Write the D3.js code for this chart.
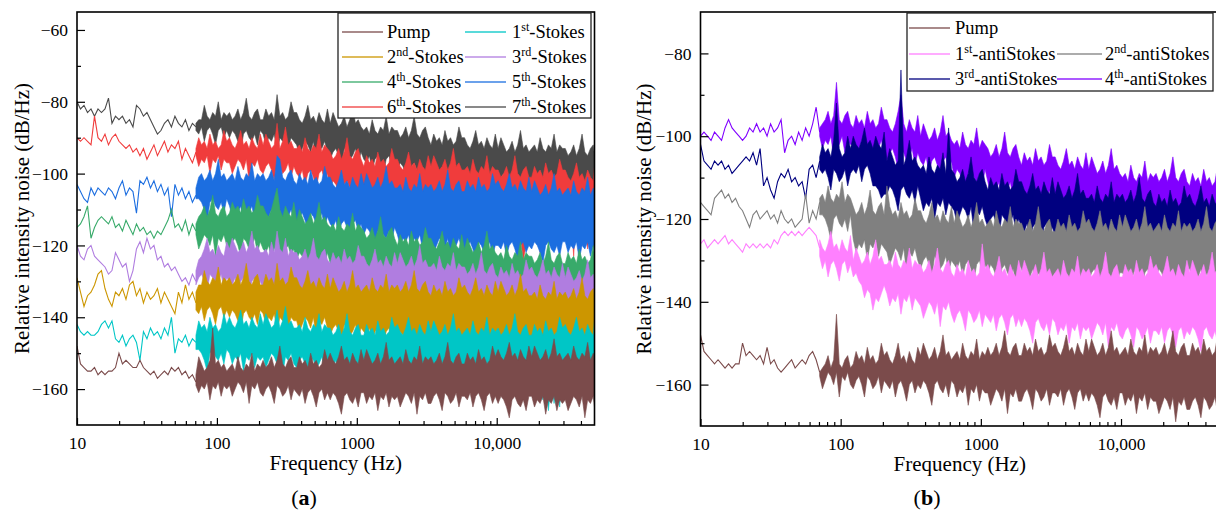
<!DOCTYPE html>
<html>
<head>
<meta charset="utf-8">
<script src="https://cdn.jsdelivr.net/npm/d3@7"></script>
<style>
  body { margin: 0; background: #fff; }
  svg text { font-family: "Liberation Serif", "Times New Roman", serif; fill: #000; }
</style>
</head>
<body>
<div id="chart"></div>
<script>
// Frequency grids (Hz): sparse trace below ~70 Hz, min/max envelope above it
const lineFreq = [10, 10.59, 11.22, 11.89, 12.59, 13.34, 14.13, 14.96, 15.85, 16.79, 17.78, 18.84, 19.95, 21.13, 22.39,
  23.71, 25.12, 26.61, 28.18, 29.85, 31.62, 33.5, 35.48, 37.58, 39.81, 42.17, 44.67, 47.32, 50.12, 53.09,
  56.23, 59.57, 63.1, 66.83, 70.79];
const bandFreq = [
  70.79, 74.13, 77.62, 81.28, 85.11, 89.13, 93.33, 97.72, 102.3, 107.2, 112.2, 117.5,
  123, 128.8, 134.9, 141.3, 147.9, 154.9, 162.2, 169.8, 177.8, 186.2, 195, 204.2,
  213.8, 223.9, 234.4, 245.5, 257, 269.2, 281.8, 295.1, 309, 323.6, 338.8, 354.8,
  371.5, 389, 407.4, 426.6, 446.7, 467.7, 489.8, 512.9, 537, 562.3, 588.8, 616.6,
  645.7, 676.1, 707.9, 741.3, 776.2, 812.8, 851.1, 891.3, 933.3, 977.2, 1023, 1072,
  1122, 1175, 1230, 1288, 1349, 1413, 1479, 1549, 1622, 1698, 1778, 1862,
  1950, 2042, 2138, 2239, 2344, 2455, 2570, 2692, 2818, 2951, 3090, 3236,
  3388, 3548, 3715, 3890, 4074, 4266, 4467, 4677, 4898, 5129, 5370, 5623,
  5888, 6166, 6457, 6761, 7079, 7413, 7762, 8128, 8511, 8913, 9333, 9772,
  10233, 10715, 11220, 11749, 12303, 12882, 13490, 14125, 14791, 15488, 16218, 16982,
  17783, 18621, 19498, 20417, 21380, 22387, 23442, 24547, 25704, 26915, 28184, 29512,
  30903, 32359, 33884, 35481, 37154, 38905, 40738, 42658, 44668, 46774, 48978, 50000];

const xMajor = [10, 100, 1000, 10000];
const xMinor = [20, 30, 40, 50, 60, 70, 80, 90, 200, 300, 400, 500, 600, 700, 800, 900,
  2000, 3000, 4000, 5000, 6000, 7000, 8000, 9000, 20000, 30000, 40000];
const yMajorA = [-60, -80, -100, -120, -140, -160];
const yMinorA = [-70, -90, -110, -130, -150];
const yMajorB = [-80, -100, -120, -140, -160];
const yMinorB = [-90, -110, -130, -150];

// ---- (a) Stokes lines, RIN in dB/Hz ----
const pumpALine = [-148,-153,-154,-155,-155, -154,-156,-155,-156,-155, -155,-154,-150,-153,-152, -153,-154,-154,-152,-154, -155,-156,-155,-157,-156, -155,-156,-154,-155,-154, -156,-155,-157,-156,-158];
const pumpAHi = [
  -156,-151,-153,-155,-154,-152,-143,-153,-152,-154,-153,-155,
  -154,-153,-155,-151,-154,-155,-153,-154,-150,-155,-153,-154,
  -152,-154,-153,-151,-154,-152,-148,-153,-154,-152,-151,-154,
  -154,-151,-153,-152,-154,-150,-153,-152,-154,-153,-149,-152,
  -150,-152,-153,-151,-148,-152,-151,-153,-150,-152,-153,-149,
  -152,-149,-151,-153,-152,-150,-153,-151,-147,-152,-151,-153,
  -152,-151,-153,-149,-152,-153,-151,-152,-148,-153,-151,-152,
  -151,-153,-152,-150,-153,-151,-147,-152,-153,-151,-150,-153,
  -153,-150,-152,-151,-153,-149,-152,-151,-153,-152,-148,-151,
  -149,-151,-152,-150,-147,-151,-150,-152,-149,-151,-152,-148,
  -151,-148,-150,-152,-151,-149,-152,-150,-146,-151,-150,-152,
  -151,-150,-152,-148,-151,-152,-150,-151,-147,-152,-150,-151];
const pumpALo = [
  -159,-161,-159,-160,-158,-163,-159,-160,-158,-162,-159,-160,
  -159,-162,-160,-158,-159,-161,-158,-164,-159,-160,-158,-161,
  -162,-160,-159,-161,-164,-159,-160,-162,-161,-159,-163,-160,
  -161,-162,-160,-164,-161,-160,-162,-165,-161,-160,-163,-161,
  -163,-161,-162,-164,-167,-162,-161,-163,-164,-162,-165,-161,
  -161,-164,-162,-163,-161,-166,-162,-163,-161,-165,-162,-163,
  -162,-165,-163,-161,-162,-164,-161,-167,-162,-163,-161,-164,
  -164,-162,-161,-163,-166,-161,-162,-164,-163,-161,-165,-162,
  -162,-163,-161,-165,-162,-161,-163,-166,-162,-161,-164,-162,
  -164,-162,-163,-165,-168,-163,-162,-164,-165,-163,-166,-162,
  -162,-165,-163,-164,-162,-167,-163,-164,-162,-166,-163,-164,
  -163,-166,-164,-162,-163,-165,-162,-168,-163,-164,-162,-165];

const s1ALine = [-142,-144,-145,-144,-145, -145,-144,-142,-141,-143, -141,-146,-147,-145,-148, -146,-145,-147,-152,-144, -146,-143,-145,-144,-146, -143,-145,-140,-150,-146, -147,-145,-148,-146,-147];
const s1AHi = [
  -145,-141,-143,-142,-144,-140,-143,-142,-144,-143,-139,-142,
  -140,-142,-143,-141,-138,-142,-141,-143,-140,-142,-143,-139,
  -142,-139,-141,-143,-142,-138,-143,-141,-137,-142,-141,-143,
  -143,-142,-144,-140,-143,-144,-142,-143,-139,-144,-142,-143,
  -143,-145,-144,-142,-145,-143,-139,-144,-145,-143,-142,-145,
  -145,-142,-144,-143,-145,-141,-144,-143,-145,-144,-140,-143,
  -142,-144,-145,-143,-140,-144,-143,-145,-142,-144,-145,-141,
  -144,-141,-143,-145,-144,-142,-145,-143,-139,-144,-143,-145,
  -144,-143,-145,-141,-144,-145,-143,-144,-140,-145,-143,-144,
  -143,-145,-144,-142,-145,-143,-139,-144,-145,-143,-142,-145,
  -145,-142,-144,-143,-145,-141,-144,-143,-145,-144,-140,-143,
  -142,-144,-145,-143,-140,-144,-143,-145,-142,-144,-145,-141];
const s1ALo = [
  -149,-149,-150,-152,-155,-150,-149,-151,-152,-150,-153,-149,
  -150,-153,-151,-152,-150,-155,-151,-152,-150,-154,-151,-152,
  -151,-154,-152,-150,-151,-153,-150,-156,-151,-152,-150,-153,
  -154,-152,-151,-153,-156,-151,-152,-154,-153,-151,-155,-152,
  -153,-154,-152,-156,-153,-152,-154,-157,-153,-152,-155,-153,
  -155,-153,-154,-156,-159,-154,-153,-155,-156,-154,-157,-153,
  -153,-156,-154,-155,-153,-158,-154,-155,-153,-157,-154,-155,
  -155,-158,-156,-154,-155,-157,-154,-160,-155,-156,-154,-157,
  -157,-155,-154,-156,-159,-154,-155,-157,-156,-154,-158,-155,
  -156,-157,-155,-159,-156,-155,-157,-160,-156,-155,-158,-156,
  -157,-155,-156,-158,-163,-156,-166,-157,-164,-156,-165,-155,
  -155,-158,-156,-157,-155,-160,-156,-157,-155,-159,-156,-157];

const s2ALine = [-129,-133,-137,-134,-133, -131,-128,-127,-132,-135, -137,-133,-134,-132,-135, -131,-130,-134,-132,-136, -133,-135,-134,-132,-136, -133,-135,-137,-139,-133, -136,-131,-135,-133,-136];
const s2AHi = [
  -133,-131,-131,-127,-130,-131,-129,-130,-126,-131,-129,-130,
  -129,-131,-130,-128,-131,-129,-125,-130,-131,-129,-128,-131,
  -131,-128,-130,-129,-131,-125,-130,-129,-131,-130,-126,-129,
  -129,-131,-132,-130,-127,-131,-130,-132,-129,-131,-132,-128,
  -132,-129,-131,-133,-132,-130,-133,-131,-127,-132,-131,-133,
  -132,-131,-133,-129,-132,-133,-131,-132,-128,-133,-131,-132,
  -131,-133,-132,-130,-133,-131,-127,-132,-133,-131,-130,-133,
  -134,-131,-133,-132,-134,-130,-133,-132,-134,-133,-129,-132,
  -131,-133,-134,-132,-129,-133,-132,-134,-131,-133,-134,-130,
  -133,-130,-132,-134,-133,-131,-134,-132,-128,-133,-132,-134,
  -134,-133,-135,-131,-134,-135,-133,-134,-130,-135,-133,-134,
  -133,-135,-134,-132,-135,-133,-129,-134,-135,-133,-132,-135];
const s2ALo = [
  -138,-139,-137,-141,-138,-137,-139,-142,-138,-137,-140,-138,
  -140,-138,-139,-141,-144,-139,-138,-140,-141,-139,-142,-138,
  -139,-142,-140,-141,-139,-144,-140,-141,-139,-143,-140,-141,
  -141,-144,-142,-140,-141,-143,-140,-146,-141,-142,-140,-143,
  -145,-143,-142,-144,-147,-142,-143,-145,-144,-142,-146,-143,
  -144,-145,-143,-147,-144,-143,-145,-148,-144,-143,-146,-144,
  -146,-144,-145,-147,-150,-145,-144,-146,-147,-145,-148,-144,
  -144,-147,-145,-146,-144,-149,-145,-146,-144,-148,-145,-146,
  -146,-149,-147,-145,-146,-148,-145,-151,-146,-147,-145,-148,
  -148,-146,-145,-147,-150,-145,-146,-148,-147,-145,-149,-146,
  -147,-148,-146,-150,-147,-146,-148,-151,-147,-146,-149,-147,
  -148,-146,-147,-149,-152,-147,-146,-148,-149,-147,-150,-146];

const s3ALine = [-120,-123,-124,-121,-120, -123,-124,-125,-126,-128, -127,-122,-124,-126,-125, -130,-127,-121,-119,-122, -118,-121,-120,-124,-123, -126,-125,-127,-126,-128, -130,-129,-131,-128,-130];
const s3AHi = [
  -127,-124,-123,-121,-118,-122,-121,-123,-120,-122,-123,-119,
  -121,-118,-120,-122,-121,-119,-122,-120,-116,-121,-120,-122,
  -122,-121,-123,-119,-122,-116,-121,-122,-118,-123,-121,-122,
  -122,-124,-123,-121,-124,-122,-118,-123,-124,-122,-121,-124,
  -125,-122,-124,-123,-125,-121,-124,-123,-125,-124,-120,-123,
  -123,-125,-126,-124,-121,-125,-124,-126,-123,-125,-126,-122,
  -125,-122,-124,-126,-125,-123,-126,-124,-120,-125,-124,-126,
  -126,-125,-127,-123,-126,-127,-125,-126,-122,-127,-125,-126,
  -126,-128,-127,-125,-128,-126,-122,-127,-128,-126,-125,-128,
  -129,-126,-128,-127,-129,-125,-128,-127,-129,-128,-124,-127,
  -126,-128,-129,-127,-124,-128,-127,-129,-126,-128,-129,-125,
  -129,-126,-128,-130,-129,-127,-130,-128,-124,-129,-128,-130];
const s3ALo = [
  -131,-129,-128,-130,-133,-128,-129,-131,-130,-128,-132,-129,
  -130,-131,-129,-133,-130,-129,-131,-134,-130,-129,-132,-130,
  -132,-130,-131,-133,-136,-131,-130,-132,-133,-131,-134,-130,
  -131,-134,-132,-133,-131,-136,-132,-133,-131,-135,-132,-133,
  -134,-137,-135,-133,-134,-136,-133,-139,-134,-135,-133,-136,
  -137,-135,-134,-136,-139,-134,-135,-137,-136,-134,-138,-135,
  -136,-137,-135,-139,-136,-135,-137,-140,-136,-135,-138,-136,
  -138,-136,-137,-139,-142,-137,-136,-138,-139,-137,-140,-136,
  -137,-140,-138,-139,-137,-142,-138,-139,-137,-141,-138,-139,
  -139,-142,-140,-138,-139,-141,-138,-144,-139,-140,-138,-141,
  -142,-140,-139,-141,-144,-139,-140,-142,-141,-139,-143,-140,
  -140,-141,-139,-143,-140,-139,-141,-144,-140,-139,-142,-140];

const s4ALine = [-115,-114,-112,-109,-118, -115,-113,-112,-113,-114, -112,-115,-114,-116,-113, -115,-117,-114,-116,-115, -117,-116,-118,-116,-117, -115,-113,-110,-115,-114, -116,-113,-117,-114,-116];
const s4AHi = [
  -114,-112,-111,-109,-112,-110,-106,-111,-112,-110,-109,-112,
  -111,-108,-110,-109,-111,-107,-110,-109,-111,-110,-106,-109,
  -109,-111,-112,-110,-107,-104,-110,-112,-109,-111,-112,-108,
  -113,-110,-112,-114,-113,-111,-114,-112,-108,-113,-112,-114,
  -115,-114,-116,-112,-115,-116,-114,-115,-111,-116,-114,-115,
  -116,-118,-117,-115,-118,-116,-112,-117,-118,-116,-115,-118,
  -120,-117,-119,-118,-120,-116,-119,-118,-120,-119,-115,-118,
  -118,-120,-121,-119,-116,-120,-119,-121,-118,-120,-121,-117,
  -121,-118,-120,-122,-121,-119,-122,-120,-116,-121,-120,-122,
  -123,-122,-124,-120,-123,-124,-122,-123,-119,-124,-122,-123,
  -123,-125,-124,-122,-125,-123,-119,-124,-125,-123,-122,-125,
  -125,-122,-124,-123,-125,-121,-124,-123,-125,-124,-120,-123];
const s4ALo = [
  -117,-121,-119,-117,-118,-120,-117,-123,-118,-119,-117,-120,
  -121,-119,-118,-120,-123,-118,-119,-121,-120,-118,-122,-119,
  -121,-122,-120,-124,-121,-120,-122,-125,-121,-120,-123,-121,
  -124,-122,-123,-125,-128,-123,-122,-124,-125,-123,-126,-122,
  -125,-128,-126,-127,-125,-130,-126,-127,-125,-129,-126,-127,
  -128,-131,-129,-127,-128,-130,-127,-133,-128,-129,-127,-130,
  -132,-130,-129,-131,-134,-129,-130,-132,-131,-129,-133,-130,
  -131,-132,-130,-134,-131,-130,-132,-135,-131,-130,-133,-131,
  -133,-131,-132,-134,-137,-132,-131,-133,-134,-132,-135,-131,
  -131,-134,-132,-133,-131,-136,-132,-133,-131,-135,-132,-133,
  -133,-136,-134,-132,-133,-135,-132,-138,-133,-134,-132,-135,
  -135,-133,-132,-134,-137,-132,-133,-135,-134,-132,-136,-133];

const s5ALine = [-103,-105,-107,-108,-104, -106,-104,-105,-106,-104, -105,-107,-104,-102,-106, -104,-105,-111,-102,-103, -101,-104,-102,-105,-103, -106,-104,-112,-103,-106, -104,-107,-105,-108,-106];
const s5AHi = [
  -104,-101,-100,-102,-101,-99,-102,-100,-96,-101,-100,-102,
  -101,-100,-102,-98,-101,-102,-100,-101,-97,-102,-100,-101,
  -100,-102,-101,-99,-102,-95,-96,-101,-102,-100,-99,-102,
  -103,-100,-102,-101,-103,-99,-102,-101,-103,-102,-98,-101,
  -101,-103,-104,-102,-99,-103,-102,-104,-101,-103,-104,-100,
  -103,-100,-102,-104,-103,-101,-104,-102,-98,-103,-102,-104,
  -104,-103,-105,-101,-104,-105,-103,-104,-100,-105,-103,-104,
  -103,-105,-104,-102,-105,-103,-99,-104,-105,-103,-102,-105,
  -105,-102,-104,-103,-105,-101,-104,-103,-105,-104,-100,-103,
  -102,-104,-105,-103,-100,-104,-103,-105,-102,-104,-105,-101,
  -105,-102,-104,-106,-105,-103,-106,-104,-100,-105,-104,-106,
  -105,-104,-106,-102,-105,-106,-104,-105,-101,-106,-104,-105];
const s5ALo = [
  -107,-107,-108,-110,-113,-108,-107,-109,-110,-108,-111,-107,
  -109,-112,-110,-111,-109,-114,-110,-111,-109,-113,-110,-111,
  -111,-114,-112,-110,-111,-113,-110,-116,-111,-112,-110,-113,
  -114,-112,-111,-113,-116,-111,-112,-114,-113,-111,-115,-112,
  -114,-115,-113,-117,-114,-113,-115,-118,-114,-113,-116,-114,
  -117,-115,-116,-118,-121,-116,-115,-117,-118,-116,-119,-115,
  -117,-120,-118,-119,-117,-122,-118,-119,-117,-121,-118,-119,
  -119,-122,-120,-118,-119,-121,-118,-124,-119,-120,-118,-121,
  -122,-120,-119,-121,-124,-119,-120,-122,-121,-119,-123,-120,
  -120,-121,-119,-123,-120,-119,-121,-124,-120,-119,-122,-120,
  -121,-119,-120,-122,-125,-120,-119,-121,-122,-120,-123,-119,
  -119,-122,-120,-121,-119,-124,-120,-121,-119,-123,-120,-121];

const s6ALine = [-90,-91,-90,-91,-92, -84,-90,-91,-89,-92, -90,-89,-91,-92,-93, -92,-94,-93,-95,-93, -96,-94,-92,-95,-93, -91,-94,-92,-93,-91, -96,-93,-95,-97,-94];
const s6AHi = [
  -93,-90,-92,-91,-93,-89,-92,-91,-93,-92,-88,-91,
  -90,-92,-93,-91,-88,-92,-91,-93,-90,-92,-93,-89,
  -92,-89,-91,-93,-92,-86,-93,-91,-87,-92,-91,-93,
  -93,-92,-94,-90,-93,-94,-92,-93,-89,-94,-92,-93,
  -94,-96,-95,-93,-96,-94,-90,-95,-96,-94,-93,-96,
  -98,-95,-97,-96,-98,-94,-97,-96,-98,-97,-93,-96,
  -96,-98,-99,-97,-94,-98,-97,-99,-96,-98,-99,-95,
  -98,-95,-97,-99,-98,-96,-99,-97,-93,-98,-97,-99,
  -99,-98,-100,-96,-99,-100,-98,-99,-95,-100,-98,-99,
  -99,-101,-100,-98,-101,-99,-95,-100,-101,-99,-98,-101,
  -101,-98,-100,-99,-101,-97,-100,-99,-101,-100,-96,-99,
  -99,-101,-102,-100,-97,-101,-100,-102,-99,-101,-102,-98];
const s6ALo = [
  -95,-98,-96,-97,-95,-100,-96,-97,-95,-99,-96,-97,
  -97,-100,-98,-96,-97,-99,-96,-102,-97,-98,-96,-99,
  -100,-98,-97,-99,-102,-97,-98,-100,-99,-97,-101,-98,
  -100,-101,-99,-103,-100,-99,-101,-104,-100,-99,-102,-100,
  -104,-102,-103,-105,-108,-103,-102,-104,-105,-103,-106,-102,
  -104,-107,-105,-106,-104,-109,-105,-106,-104,-108,-105,-106,
  -107,-110,-108,-106,-107,-109,-106,-112,-107,-108,-106,-109,
  -110,-108,-107,-109,-112,-107,-108,-110,-109,-107,-111,-108,
  -109,-110,-108,-112,-109,-108,-110,-113,-109,-108,-111,-109,
  -111,-109,-110,-112,-115,-110,-109,-111,-118,-124,-120,-109,
  -109,-112,-110,-122,-109,-114,-110,-111,-109,-113,-110,-111,
  -110,-113,-111,-123,-110,-112,-109,-115,-121,-111,-109,-112];

const s7ALine = [-80,-82,-81,-83,-82, -84,-82,-83,-82,-79, -86,-84,-85,-84,-86, -85,-87,-81,-82,-84, -83,-85,-87,-89,-88, -86,-85,-87,-84,-86, -87,-85,-88,-86,-87];
const s7AHi = [
  -86,-85,-85,-81,-84,-85,-83,-84,-80,-85,-83,-84,
  -83,-85,-84,-82,-85,-83,-79,-84,-85,-83,-82,-85,
  -85,-82,-84,-83,-85,-78,-84,-83,-85,-84,-80,-83,
  -83,-85,-86,-84,-81,-85,-84,-86,-83,-85,-86,-82,
  -86,-83,-85,-87,-86,-84,-87,-85,-81,-86,-85,-87,
  -88,-87,-89,-85,-88,-89,-87,-88,-84,-89,-87,-88,
  -88,-90,-89,-87,-90,-88,-84,-89,-90,-88,-87,-90,
  -92,-89,-91,-90,-92,-88,-91,-90,-92,-91,-87,-90,
  -90,-92,-93,-91,-88,-92,-91,-93,-90,-92,-93,-89,
  -93,-90,-92,-94,-93,-91,-94,-92,-88,-93,-92,-94,
  -93,-92,-94,-90,-93,-94,-92,-93,-89,-94,-92,-93,
  -93,-95,-94,-92,-95,-93,-89,-94,-95,-93,-92,-95];
const s7ALo = [
  -88,-89,-87,-91,-88,-87,-89,-92,-88,-87,-90,-88,
  -90,-88,-89,-91,-94,-89,-88,-90,-91,-89,-92,-88,
  -89,-92,-90,-91,-89,-94,-90,-91,-89,-93,-90,-91,
  -92,-95,-93,-91,-92,-94,-91,-97,-92,-93,-91,-94,
  -96,-94,-93,-95,-98,-93,-94,-96,-95,-93,-97,-94,
  -96,-97,-95,-99,-96,-95,-97,-100,-96,-95,-98,-96,
  -99,-97,-98,-100,-103,-98,-97,-99,-100,-98,-101,-97,
  -98,-101,-99,-100,-98,-103,-99,-100,-98,-102,-99,-100,
  -100,-103,-101,-99,-100,-102,-99,-105,-100,-101,-99,-102,
  -103,-101,-100,-102,-105,-100,-101,-103,-102,-100,-104,-101,
  -102,-103,-101,-105,-102,-101,-103,-106,-102,-101,-104,-102,
  -104,-102,-103,-105,-108,-103,-102,-104,-105,-103,-106,-102];

// ---- (b) anti-Stokes lines ----
const pumpBLine = [-148,-152,-153,-154,-155, -154,-155,-156,-155,-156, -155,-155,-150,-153,-152, -153,-154,-153,-155,-151, -155,-154,-156,-157,-156, -155,-154,-156,-155,-154, -155,-153,-152,-154,-157];
const pumpBHi = [
  -157,-156,-155,-153,-156,-154,-143,-155,-156,-154,-153,-156,
  -155,-152,-154,-153,-155,-151,-154,-153,-155,-154,-150,-153,
  -152,-154,-155,-153,-150,-154,-153,-155,-152,-154,-155,-151,
  -153,-150,-152,-154,-153,-151,-154,-152,-148,-153,-152,-154,
  -153,-152,-154,-150,-153,-154,-152,-153,-149,-154,-152,-153,
  -151,-153,-152,-150,-153,-151,-147,-152,-153,-151,-150,-153,
  -153,-150,-152,-151,-153,-149,-152,-151,-153,-152,-148,-151,
  -150,-152,-153,-151,-148,-152,-151,-153,-150,-152,-153,-149,
  -152,-149,-151,-153,-152,-150,-153,-151,-147,-152,-151,-153,
  -152,-151,-153,-149,-152,-153,-151,-152,-148,-153,-151,-152,
  -151,-153,-152,-150,-153,-151,-147,-152,-153,-151,-150,-153,
  -153,-150,-152,-151,-153,-149,-152,-151,-153,-152,-148,-151];
const pumpBLo = [
  -158,-161,-159,-157,-158,-160,-157,-163,-158,-159,-157,-160,
  -161,-159,-158,-160,-163,-158,-159,-161,-160,-158,-162,-159,
  -160,-161,-159,-163,-160,-159,-161,-164,-160,-159,-162,-160,
  -161,-159,-160,-162,-165,-160,-159,-161,-162,-160,-163,-159,
  -160,-163,-161,-162,-160,-165,-161,-162,-160,-164,-161,-162,
  -162,-165,-163,-161,-162,-164,-161,-167,-162,-163,-161,-164,
  -164,-162,-161,-163,-166,-161,-162,-164,-163,-161,-165,-162,
  -162,-163,-161,-165,-162,-161,-163,-166,-162,-161,-164,-162,
  -164,-162,-163,-165,-168,-163,-162,-164,-165,-163,-166,-162,
  -162,-165,-163,-164,-162,-167,-163,-164,-162,-166,-163,-164,
  -164,-167,-165,-163,-164,-166,-163,-169,-164,-165,-163,-166,
  -166,-164,-163,-165,-168,-163,-164,-166,-165,-163,-167,-164];

const a1BLine = [-126,-125,-127,-126,-125, -126,-125,-124,-126,-125, -126,-127,-128,-126,-127, -126,-127,-126,-127,-126, -127,-125,-126,-124,-123, -124,-123,-124,-123,-124, -123,-122,-123,-124,-127];
const a1BHi = [
  -125,-127,-128,-126,-123,-127,-126,-128,-125,-127,-128,-124,
  -130,-127,-129,-131,-130,-128,-131,-129,-125,-130,-129,-131,
  -131,-130,-132,-128,-131,-132,-130,-131,-127,-132,-130,-131,
  -131,-133,-132,-130,-133,-131,-127,-132,-133,-131,-130,-133,
  -134,-131,-133,-132,-134,-130,-133,-132,-134,-133,-126,-132,
  -131,-133,-134,-132,-129,-133,-132,-134,-131,-133,-134,-130,
  -133,-130,-132,-134,-133,-131,-134,-132,-128,-133,-132,-134,
  -133,-132,-134,-130,-133,-134,-132,-133,-129,-134,-132,-133,
  -132,-134,-133,-131,-134,-132,-128,-133,-134,-132,-131,-134,
  -134,-131,-133,-132,-134,-130,-133,-132,-134,-133,-129,-132,
  -131,-133,-134,-132,-129,-133,-132,-134,-131,-133,-134,-130,
  -133,-130,-132,-134,-133,-131,-134,-132,-128,-133,-132,-134];
const a1BLo = [
  -129,-132,-130,-134,-131,-130,-132,-135,-131,-130,-133,-131,
  -134,-133,-135,-136,-139,-137,-138,-142,-139,-140,-138,-136,
  -138,-141,-139,-140,-138,-143,-139,-140,-138,-142,-139,-140,
  -141,-144,-142,-140,-141,-143,-140,-146,-141,-142,-140,-143,
  -145,-143,-142,-144,-147,-142,-143,-145,-144,-142,-146,-143,
  -144,-145,-143,-147,-144,-143,-145,-148,-144,-143,-146,-144,
  -146,-144,-145,-147,-150,-145,-144,-146,-147,-145,-148,-144,
  -145,-148,-146,-147,-145,-150,-146,-147,-145,-149,-146,-147,
  -146,-149,-147,-145,-146,-148,-145,-151,-146,-147,-145,-148,
  -149,-147,-146,-148,-151,-146,-147,-149,-148,-146,-150,-147,
  -147,-148,-146,-150,-147,-146,-148,-151,-147,-146,-149,-147,
  -148,-146,-147,-149,-152,-147,-146,-148,-149,-147,-150,-146];

const a2BLine = [-116,-117,-118,-119,-115, -114,-113,-115,-114,-116, -115,-117,-118,-120,-122, -119,-118,-120,-119,-118, -120,-119,-121,-118,-120, -121,-120,-122,-121,-120, -114,-121,-118,-120,-116];
const a2BHi = [
  -115,-114,-116,-112,-115,-116,-114,-115,-111,-116,-114,-115,
  -117,-119,-118,-116,-119,-117,-113,-118,-119,-117,-116,-119,
  -112,-117,-119,-118,-120,-116,-119,-118,-120,-119,-115,-118,
  -118,-120,-121,-119,-116,-120,-119,-121,-118,-120,-121,-117,
  -121,-118,-120,-122,-121,-119,-122,-120,-116,-121,-120,-122,
  -121,-120,-122,-118,-121,-122,-120,-121,-117,-122,-120,-121,
  -121,-123,-122,-120,-123,-121,-117,-122,-123,-121,-120,-123,
  -123,-120,-122,-121,-123,-119,-122,-121,-123,-122,-118,-121,
  -120,-122,-123,-121,-118,-122,-121,-123,-120,-122,-123,-119,
  -122,-119,-121,-123,-122,-120,-123,-121,-117,-122,-121,-123,
  -122,-121,-123,-119,-122,-123,-121,-122,-118,-123,-121,-122,
  -121,-123,-122,-120,-123,-121,-117,-122,-123,-121,-120,-123];
const a2BLo = [
  -119,-119,-120,-122,-125,-120,-119,-121,-122,-120,-123,-119,
  -125,-128,-126,-127,-125,-130,-126,-127,-125,-129,-126,-127,
  -128,-131,-129,-127,-128,-130,-127,-133,-128,-129,-127,-130,
  -132,-130,-129,-131,-134,-129,-130,-132,-131,-129,-133,-130,
  -131,-132,-130,-134,-131,-130,-132,-135,-131,-130,-133,-131,
  -133,-131,-132,-134,-137,-132,-131,-133,-134,-132,-135,-131,
  -132,-135,-133,-134,-132,-137,-133,-134,-132,-136,-133,-134,
  -133,-136,-134,-132,-133,-135,-132,-138,-133,-134,-132,-135,
  -135,-133,-132,-134,-137,-132,-133,-135,-134,-132,-136,-133,
  -133,-134,-132,-136,-133,-132,-134,-137,-133,-132,-135,-133,
  -134,-132,-133,-135,-138,-133,-132,-134,-135,-133,-136,-132,
  -132,-135,-133,-134,-132,-137,-133,-134,-132,-136,-133,-134];

const a3BLine = [-102,-106,-107,-108,-106, -107,-106,-108,-107,-109, -108,-107,-106,-105,-106, -104,-107,-103,-112,-110, -113,-115,-111,-109,-110, -108,-111,-110,-112,-111, -115,-108,-107,-110,-106];
const a3BHi = [
  -105,-102,-104,-103,-105,-101,-92,-103,-105,-104,-100,-103,
  -100,-102,-103,-101,-98,-102,-101,-103,-100,-102,-103,-99,
  -106,-103,-105,-107,-106,-84,-107,-105,-101,-106,-105,-107,
  -108,-107,-109,-105,-108,-109,-107,-108,-104,-109,-98,-108,
  -109,-111,-110,-108,-111,-109,-105,-110,-111,-109,-108,-111,
  -113,-110,-112,-111,-113,-109,-112,-111,-113,-112,-108,-111,
  -111,-113,-114,-112,-109,-113,-112,-114,-111,-113,-114,-110,
  -114,-111,-113,-115,-114,-112,-115,-113,-109,-114,-113,-115,
  -115,-114,-116,-112,-115,-116,-114,-115,-111,-116,-114,-115,
  -114,-116,-115,-113,-116,-114,-110,-115,-116,-114,-113,-116,
  -117,-114,-116,-115,-117,-113,-116,-115,-117,-116,-112,-115,
  -114,-116,-117,-115,-112,-116,-115,-117,-114,-116,-117,-113];
const a3BLo = [
  -108,-109,-108,-110,-113,-108,-109,-111,-110,-108,-112,-109,
  -108,-109,-107,-111,-108,-107,-109,-112,-112,-113,-115,-114,
  -114,-112,-113,-115,-118,-113,-112,-114,-115,-113,-116,-112,
  -115,-118,-116,-117,-115,-120,-116,-117,-115,-119,-116,-117,
  -118,-121,-119,-117,-118,-120,-117,-123,-118,-119,-117,-120,
  -122,-120,-119,-121,-124,-119,-120,-122,-121,-119,-123,-120,
  -122,-123,-121,-125,-122,-121,-123,-126,-122,-121,-124,-122,
  -124,-122,-123,-125,-128,-123,-122,-124,-125,-123,-126,-122,
  -123,-126,-124,-125,-123,-128,-124,-125,-123,-127,-124,-125,
  -125,-128,-126,-124,-125,-127,-124,-130,-125,-126,-124,-127,
  -128,-126,-125,-127,-130,-125,-126,-128,-127,-125,-129,-126,
  -127,-128,-126,-130,-127,-126,-128,-131,-127,-126,-129,-127];

const a4BLine = [-100,-99,-100,-101,-99, -100,-101,-98,-96,-98, -99,-100,-101,-100,-98, -99,-97,-99,-98,-100, -97,-99,-98,-96,-104, -101,-100,-102,-99,-101, -98,-100,-97,-93,-99];
const a4BHi = [
  -98,-97,-96,-94,-97,-95,-87,-96,-97,-95,-94,-97,
  -98,-95,-97,-96,-98,-94,-97,-96,-98,-97,-93,-96,
  -96,-98,-99,-97,-94,-90,-97,-99,-96,-98,-99,-95,
  -100,-97,-99,-101,-100,-98,-101,-99,-95,-100,-99,-101,
  -102,-101,-103,-99,-102,-103,-101,-102,-98,-103,-101,-102,
  -103,-105,-104,-102,-105,-103,-99,-104,-105,-103,-102,-105,
  -107,-104,-106,-105,-107,-103,-106,-105,-107,-106,-102,-105,
  -105,-107,-108,-106,-103,-107,-106,-108,-105,-107,-108,-104,
  -108,-105,-107,-109,-108,-106,-109,-107,-103,-108,-107,-109,
  -110,-109,-111,-107,-110,-111,-109,-110,-106,-111,-109,-110,
  -109,-111,-110,-108,-111,-109,-105,-110,-111,-109,-108,-111,
  -112,-109,-111,-110,-112,-108,-111,-110,-112,-111,-107,-110];
const a4BLo = [
  -100,-103,-101,-102,-100,-105,-101,-102,-100,-104,-101,-102,
  -102,-105,-103,-101,-102,-104,-101,-107,-102,-103,-101,-104,
  -106,-104,-103,-105,-108,-103,-104,-106,-105,-103,-107,-104,
  -106,-107,-105,-109,-106,-105,-107,-110,-106,-105,-108,-106,
  -110,-108,-109,-111,-114,-109,-108,-110,-111,-109,-112,-108,
  -111,-114,-112,-113,-111,-116,-112,-113,-111,-115,-112,-113,
  -114,-117,-115,-113,-114,-116,-113,-119,-114,-115,-113,-116,
  -118,-116,-115,-117,-120,-115,-116,-118,-117,-115,-119,-116,
  -117,-118,-116,-120,-117,-116,-118,-121,-117,-116,-119,-117,
  -119,-117,-118,-120,-123,-118,-117,-119,-120,-118,-121,-117,
  -118,-121,-119,-120,-118,-123,-119,-120,-118,-122,-119,-120,
  -119,-122,-120,-118,-119,-121,-118,-124,-119,-120,-118,-121];

// Series tables (legend order); label = [main, superscript, rest]
const stokesSeries = [
  { label: ["Pump"], color: "#7b4b4b", line: pumpALine, lo: pumpALo, hi: pumpAHi },
  { label: ["1", "st", "-Stokes"], color: "#00c6c6", line: s1ALine, lo: s1ALo, hi: s1AHi },
  { label: ["2", "nd", "-Stokes"], color: "#cc9600", line: s2ALine, lo: s2ALo, hi: s2AHi },
  { label: ["3", "rd", "-Stokes"], color: "#b07de0", line: s3ALine, lo: s3ALo, hi: s3AHi },
  { label: ["4", "th", "-Stokes"], color: "#38aa6a", line: s4ALine, lo: s4ALo, hi: s4AHi },
  { label: ["5", "th", "-Stokes"], color: "#1c6ee0", line: s5ALine, lo: s5ALo, hi: s5AHi },
  { label: ["6", "th", "-Stokes"], color: "#f03c3c", line: s6ALine, lo: s6ALo, hi: s6AHi },
  { label: ["7", "th", "-Stokes"], color: "#4a4a4a", line: s7ALine, lo: s7ALo, hi: s7AHi }
];
const antiSeries = [
  { label: ["Pump"], color: "#7b4b4b", line: pumpBLine, lo: pumpBLo, hi: pumpBHi },
  { label: ["1", "st", "-antiStokes"], color: "#ff80ff", line: a1BLine, lo: a1BLo, hi: a1BHi },
  { label: ["2", "nd", "-antiStokes"], color: "#808080", line: a2BLine, lo: a2BLo, hi: a2BHi },
  { label: ["3", "rd", "-antiStokes"], color: "#000080", line: a3BLine, lo: a3BLo, hi: a3BHi },
  { label: ["4", "th", "-antiStokes"], color: "#8000ff", line: a4BLine, lo: a4BLo, hi: a4BHi }
];

class NoisePanel {
  constructor(_svg, _series, _config) {
    this.svg = _svg;
    this.series = _series;
    this.config = _config;

    this.initVis();
  }

  initVis() {
    let vis = this;
    let c = vis.config;

    vis.x = d3.scaleLog().domain([10, 50000]).range([c.left, c.right]);
    vis.y = d3.scaleLinear().domain(c.yDomain).range([c.bottom, c.top]);

    vis.g = vis.svg.append("g").attr("class", "panel-" + c.id);

    vis.g.append("clipPath")
      .attr("id", "clip-" + c.id)
      .append("rect")
      .attr("x", c.left)
      .attr("y", c.top)
      .attr("width", c.right - c.left)
      .attr("height", c.bottom - c.top);

    vis.plot = vis.g.append("g").attr("clip-path", "url(#clip-" + c.id + ")");

    vis.line = d3.line().x((d) => vis.x(d.f)).y((d) => vis.y(d.v));
    vis.area = d3.area()
      .x((d) => vis.x(d.f))
      .y0((d) => vis.y(d.lo))
      .y1((d) => vis.y(d.hi));

    vis.drawSeries();
    vis.drawAxes();
    vis.drawLegend();
  }

  drawSeries() {
    let vis = this;

    // last legend entry goes underneath, pump ends up on top
    vis.series.slice().reverse().forEach((s) => {
      let band = bandFreq.map((f, i) => ({ f: f, lo: s.lo[i], hi: s.hi[i] }));
      let trace = lineFreq.map((f, i) => ({ f: f, v: s.line[i] }));

      vis.plot.append("path")
        .datum(band)
        .attr("d", vis.area)
        .attr("fill", s.color)
        .attr("stroke", s.color)
        .attr("stroke-width", 0.6)
        .attr("stroke-linejoin", "round");

      vis.plot.append("path")
        .datum(trace)
        .attr("d", vis.line)
        .attr("fill", "none")
        .attr("stroke", s.color)
        .attr("stroke-width", 1.1);
    });
  }

  drawAxes() {
    let vis = this;
    let c = vis.config;

    let styleTicks = (sel, withText) => {
      sel.select(".domain").remove();
      sel.selectAll(".tick line").attr("stroke", "#000").attr("stroke-width", 1.2);
      if (withText) {
        sel.selectAll(".tick text")
          .attr("font-size", 17.5)
          .attr("font-family", "'Liberation Serif', serif")
          .attr("fill", "#000");
      } else {
        sel.selectAll(".tick text").remove();
      }
    };

    // y axis, ticks pointing into the plot
    vis.g.append("g")
      .attr("transform", "translate(" + c.left + ",0)")
      .call(d3.axisLeft(vis.y).tickValues(c.yMajor).tickSize(-8).tickPadding(9).tickFormat(d3.format("d")))
      .call((sel) => styleTicks(sel, true));
    vis.g.append("g")
      .attr("transform", "translate(" + c.left + ",0)")
      .call(d3.axisLeft(vis.y).tickValues(c.yMinor).tickSize(-4))
      .call((sel) => styleTicks(sel, false));

    // x axis
    let xFormat = (d) => (d >= 10000 ? d3.format(",")(d) : String(d));
    vis.g.append("g")
      .attr("transform", "translate(0," + c.bottom + ")")
      .call(d3.axisBottom(vis.x).tickValues(xMajor).tickSize(-7).tickPadding(12).tickFormat(xFormat))
      .call((sel) => styleTicks(sel, true));
    vis.g.append("g")
      .attr("transform", "translate(0," + c.bottom + ")")
      .call(d3.axisBottom(vis.x).tickValues(xMinor).tickSize(-4))
      .call((sel) => styleTicks(sel, false));

    // frame
    vis.g.append("rect")
      .attr("x", c.left)
      .attr("y", c.top)
      .attr("width", c.right - c.left)
      .attr("height", c.bottom - c.top)
      .attr("fill", "none")
      .attr("stroke", "#000")
      .attr("stroke-width", 1.6);

    // titles
    vis.g.append("text")
      .attr("x", (c.left + c.right) / 2)
      .attr("y", c.bottom + 45)
      .attr("text-anchor", "middle")
      .attr("font-size", 21)
      .text("Frequency (Hz)");

    vis.g.append("text")
      .attr("transform", "translate(" + c.yTitleX + "," + (c.top + c.bottom) / 2 + ") rotate(-90)")
      .attr("text-anchor", "middle")
      .attr("font-size", 21)
      .text("Relative intensity noise (dB/Hz)");

    // sub-figure caption
    let cap = vis.g.append("text")
      .attr("x", c.captionX)
      .attr("y", 505)
      .attr("text-anchor", "middle")
      .attr("font-size", 22);
    cap.append("tspan").text("(");
    cap.append("tspan").attr("font-weight", "bold").text(c.id);
    cap.append("tspan").text(")");
  }

  drawLegend() {
    let vis = this;
    let L = vis.config.legend;

    let lg = vis.g.append("g").attr("class", "legend");

    lg.append("rect")
      .attr("x", L.x)
      .attr("y", L.y)
      .attr("width", L.w)
      .attr("height", L.h)
      .attr("fill", "#fff")
      .attr("stroke", "#222")
      .attr("stroke-width", 1.3);

    vis.series.forEach((s, i) => {
      let slot = L.slots[i];
      let col = L.cols[slot[0]];
      let yy = L.rows[slot[1]];

      lg.append("line")
        .attr("x1", col.x1)
        .attr("x2", col.x2)
        .attr("y1", yy)
        .attr("y2", yy)
        .attr("stroke", s.color)
        .attr("stroke-opacity", 0.65)
        .attr("stroke-width", 1.8);

      let t = lg.append("text")
        .attr("x", col.tx)
        .attr("y", yy + 6)
        .attr("font-size", 18.5);
      t.append("tspan").text(s.label[0]);
      if (s.label.length > 1) {
        t.append("tspan").attr("font-size", 12).attr("dy", -7).text(s.label[1]);
        t.append("tspan").attr("dy", 7).text(s.label[2]);
      }
    });
  }
}

const svg = d3.select("#chart")
  .append("svg")
  .attr("width", 1216)
  .attr("height", 512);

new NoisePanel(svg, stokesSeries, {
  id: "a",
  left: 77, right: 594.5, top: 12, bottom: 425,
  yDomain: [-170, -55], yMajor: yMajorA, yMinor: yMinorA,
  yTitleX: 29, captionX: 304,
  legend: {
    x: 338, y: 13, w: 253, h: 105,
    rows: [32, 57, 82, 107],
    cols: [{ x1: 342, x2: 383, tx: 387 }, { x1: 465, x2: 506, tx: 512 }],
    slots: [[0, 0], [1, 0], [0, 1], [1, 1], [0, 2], [1, 2], [0, 3], [1, 3]]
  }
});

new NoisePanel(svg, antiSeries, {
  id: "b",
  left: 700.5, right: 1219, top: 12, bottom: 426,
  yDomain: [-170, -70], yMajor: yMajorB, yMinor: yMinorB,
  yTitleX: 651, captionX: 927,
  legend: {
    x: 907, y: 13, w: 306, h: 78,
    rows: [28, 54, 79],
    cols: [{ x1: 909, x2: 950, tx: 955 }, { x1: 1057, x2: 1102, tx: 1105 }],
    slots: [[0, 0], [0, 1], [1, 1], [0, 2], [1, 2]]
  }
});
</script>
</body>
</html>
